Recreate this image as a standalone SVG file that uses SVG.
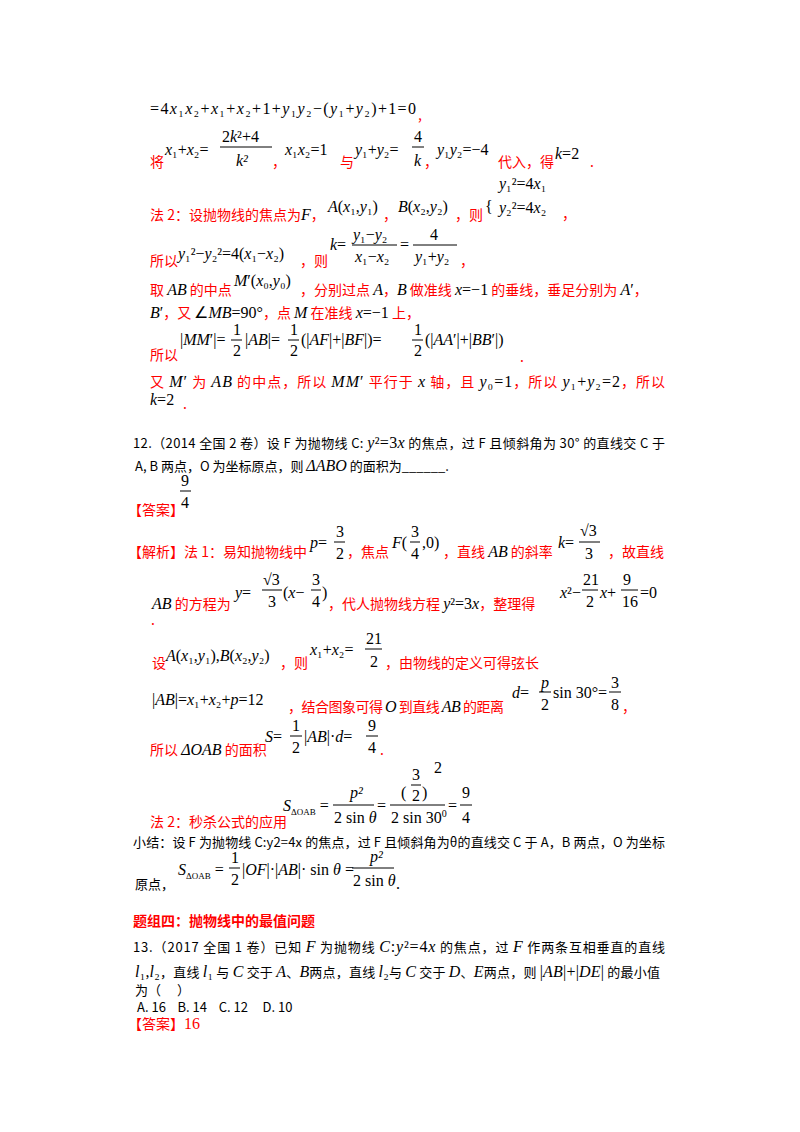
<svg xmlns="http://www.w3.org/2000/svg" width="800" height="1132" viewBox="0 0 800 1132">
<style>
text{font-family:"Liberation Serif","Noto Sans CJK SC",serif;font-size:15px;fill:#000}
.r{fill:#ff0000;font-family:"Noto Sans CJK SC",sans-serif;font-size:14px}
.c{font-family:"Noto Sans CJK SC",sans-serif;font-size:13px}
.m{font-family:"Liberation Serif",serif;font-size:16px}
.i{font-style:italic}
.rb{fill:#ff0000;font-family:"Noto Sans CJK SC",sans-serif;font-size:14px;font-weight:bold}
line{stroke:#000;stroke-width:1}
</style>
<rect width="800" height="1132" fill="#fff"/>
<text class="m" x="150" y="114" textLength="266">=4<tspan class="i">x</tspan>₁<tspan class="i">x</tspan>₂+<tspan class="i">x</tspan>₁+<tspan class="i">x</tspan>₂+1+<tspan class="i">y</tspan>₁<tspan class="i">y</tspan>₂−(<tspan class="i">y</tspan>₁+<tspan class="i">y</tspan>₂)+1=0</text>
<text class="r" x="418" y="120">,</text>
<text class="r" x="150" y="167">将</text>
<text class="m" x="165" y="155"><tspan class="i">x</tspan>₁+<tspan class="i">x</tspan>₂=</text>
<text class="m" x="222" y="142">2<tspan class="i">k</tspan>²+4</text>
<line x1="220" y1="147" x2="272" y2="147"/>
<text class="m i" x="236" y="166">k²</text>
<text class="r" x="272" y="167">，</text>
<text class="m" x="285" y="155"><tspan class="i">x</tspan>₁<tspan class="i">x</tspan>₂=1</text>
<text class="r" x="340" y="167">与</text>
<text class="m" x="355" y="155"><tspan class="i">y</tspan>₁+<tspan class="i">y</tspan>₂=</text>
<text class="m" x="414" y="142">4</text>
<line x1="412" y1="147" x2="424" y2="147"/>
<text class="m i" x="414" y="166">k</text>
<text class="r" x="424" y="167">，</text>
<text class="m" x="437" y="155"><tspan class="i">y</tspan>₁<tspan class="i">y</tspan>₂=−4</text>
<text class="r" x="498" y="167">代入，得</text>
<text class="m" x="555" y="159"><tspan class="i">k</tspan>=2</text>
<text class="r" x="590" y="167">.</text>
<text class="m" x="485" y="212" font-size="40">{</text>
<text class="m" x="499" y="189"><tspan class="i">y</tspan>₁²=4<tspan class="i">x</tspan>₁</text>
<text class="m" x="499" y="213"><tspan class="i">y</tspan>₂²=4<tspan class="i">x</tspan>₂</text>
<text class="r" x="562" y="219">，</text>
<text class="r" x="150" y="220">法 2：设抛物线的焦点为<tspan class="m i" fill="#000">F</tspan>，</text>
<text class="m" x="328" y="212"><tspan class="i">A</tspan>(<tspan class="i">x</tspan>₁,<tspan class="i">y</tspan>₁)</text>
<text class="r" x="383" y="220">，</text>
<text class="m" x="398" y="212"><tspan class="i">B</tspan>(<tspan class="i">x</tspan>₂,<tspan class="i">y</tspan>₂)</text>
<text class="r" x="455" y="220">，则</text>
<text class="r" x="150" y="266">所以</text>
<text class="m" x="178" y="259"><tspan class="i">y</tspan>₁²−<tspan class="i">y</tspan>₂²=4(<tspan class="i">x</tspan>₁−<tspan class="i">x</tspan>₂)</text>
<text class="r" x="300" y="266">，则</text>
<text class="m" x="330" y="250"><tspan class="i">k</tspan>=</text>
<text class="m" x="353" y="240"><tspan class="i">y</tspan>₁−<tspan class="i">y</tspan>₂</text>
<line x1="352" y1="245" x2="397" y2="245"/>
<text class="m" x="355" y="262"><tspan class="i">x</tspan>₁−<tspan class="i">x</tspan>₂</text>
<text class="m" x="400" y="250">=</text>
<text class="m" x="430" y="240">4</text>
<line x1="413" y1="245" x2="457" y2="245"/>
<text class="m" x="415" y="262"><tspan class="i">y</tspan>₁+<tspan class="i">y</tspan>₂</text>
<text class="r" x="460" y="266">，</text>
<text class="r" x="150" y="295">取 <tspan class="m i" fill="#000">AB</tspan> 的中点</text>
<text class="m" x="234" y="286"><tspan class="i">M</tspan>′(<tspan class="i">x</tspan>₀,<tspan class="i">y</tspan>₀)</text>
<text class="r" x="300" y="295">，分别过点 <tspan class="m i" fill="#000">A</tspan>，<tspan class="m i" fill="#000">B</tspan> 做准线 <tspan class="m i" fill="#000">x</tspan><tspan class="m" fill="#000">=−1</tspan> 的垂线，垂足分别为 <tspan class="m i" fill="#000">A</tspan><tspan class="m" fill="#000">′</tspan>，</text>
<text class="r" x="150" y="318"><tspan class="m i" fill="#000">B</tspan><tspan class="m" fill="#000">′</tspan>，又 <tspan class="m" fill="#000">∠</tspan><tspan class="m i" fill="#000">MB</tspan><tspan class="m" fill="#000">=90°</tspan>，点 <tspan class="m i" fill="#000">M</tspan> 在准线 <tspan class="m i" fill="#000">x</tspan><tspan class="m" fill="#000">=−1</tspan> 上，</text>
<text class="r" x="150" y="360">所以</text>
<text class="m" x="180" y="345">|<tspan class="i">MM</tspan>′|=</text>
<text class="m" x="233" y="335">1</text><line x1="231" y1="340" x2="242" y2="340"/><text class="m" x="233" y="356">2</text>
<text class="m" x="245" y="345">|<tspan class="i">AB</tspan>|=</text>
<text class="m" x="290" y="335">1</text><line x1="288" y1="340" x2="299" y2="340"/><text class="m" x="290" y="356">2</text>
<text class="m" x="301" y="345">(|<tspan class="i">AF</tspan>|+|<tspan class="i">BF</tspan>|)=</text>
<text class="m" x="414" y="335">1</text><line x1="412" y1="340" x2="423" y2="340"/><text class="m" x="414" y="356">2</text>
<text class="m" x="425" y="345">(|<tspan class="i">AA</tspan>′|+|<tspan class="i">BB</tspan>′|)</text>
<text class="r" x="520" y="362">.</text>
<text class="r" x="150" y="387" textLength="515">又 <tspan class="m i" fill="#000">M</tspan><tspan class="m" fill="#000">′</tspan> 为 <tspan class="m i" fill="#000">AB</tspan> 的中点，所以 <tspan class="m i" fill="#000">MM</tspan><tspan class="m" fill="#000">′</tspan> 平行于 <tspan class="m i" fill="#000">x</tspan> 轴，且 <tspan class="m i" fill="#000">y</tspan><tspan class="m" fill="#000">₀=1</tspan>，所以 <tspan class="m i" fill="#000">y</tspan><tspan class="m" fill="#000">₁+</tspan><tspan class="m i" fill="#000">y</tspan><tspan class="m" fill="#000">₂=2</tspan>，所以</text>
<text class="m" x="150" y="405"><tspan class="i">k</tspan>=2</text>
<text class="r" x="183" y="409">.</text>
<text class="c" x="133" y="448" textLength="532">12.（2014 全国 2 卷）设 F 为抛物线 C: <tspan class="m i">y</tspan><tspan class="m">²=3</tspan><tspan class="m i">x</tspan> 的焦点，过 F 且倾斜角为 30° 的直线交 C 于</text>
<text class="c" x="135" y="471">A, B 两点，O 为坐标原点，则 <tspan class="m i">ΔABO</tspan> 的面积为______.</text>
<text class="r" x="128" y="515" font-size="12">【答案】</text>
<text class="m" x="181" y="486">9</text><line x1="180" y1="491" x2="191" y2="491"/><text class="m" x="181" y="508">4</text>
<text class="r" x="128" y="557" font-size="13">【解析】法 1：易知抛物线中</text>
<text class="m" x="310" y="548"><tspan class="i">p</tspan>=</text>
<text class="m" x="336" y="537">3</text><line x1="334" y1="542" x2="345" y2="542"/><text class="m" x="336" y="559">2</text>
<text class="r" x="347" y="557">，焦点</text>
<text class="m" x="392" y="548"><tspan class="i">F</tspan>(</text>
<text class="m" x="411" y="537">3</text><line x1="410" y1="542" x2="420" y2="542"/><text class="m" x="411" y="559">4</text>
<text class="m" x="422" y="548">,0)</text>
<text class="r" x="443" y="557">，直线 <tspan class="m i" fill="#000">AB</tspan> 的斜率</text>
<text class="m" x="558" y="548"><tspan class="i">k</tspan>=</text>
<text class="m" x="580" y="536">√3</text><line x1="579" y1="542" x2="600" y2="542"/><text class="m" x="585" y="559">3</text>
<text class="r" x="608" y="557">，故直线</text>
<text class="r" x="152" y="609"><tspan class="m i" fill="#000">AB</tspan> 的方程为</text>
<text class="m" x="235" y="598"><tspan class="i">y</tspan>=</text>
<text class="m" x="263" y="585">√3</text><line x1="262" y1="590" x2="282" y2="590"/><text class="m" x="268" y="607">3</text>
<text class="m" x="283" y="598">(<tspan class="i">x</tspan>−</text>
<text class="m" x="312" y="585">3</text><line x1="311" y1="590" x2="321" y2="590"/><text class="m" x="312" y="607">4</text>
<text class="m" x="322" y="598">)</text>
<text class="r" x="328" y="609">，代人抛物线方程 <tspan class="m i" fill="#000">y</tspan><tspan class="m" fill="#000">²=3</tspan><tspan class="m i" fill="#000">x</tspan>，整理得</text>
<text class="m" x="560" y="598"><tspan class="i">x</tspan>²−</text>
<text class="m" x="583" y="585">21</text><line x1="582" y1="590" x2="598" y2="590"/><text class="m" x="586" y="607">2</text>
<text class="m" x="600" y="598"><tspan class="i">x</tspan>+</text>
<text class="m" x="623" y="585">9</text><line x1="621" y1="590" x2="638" y2="590"/><text class="m" x="622" y="607">16</text>
<text class="m" x="640" y="598">=0</text>
<text class="r" x="151" y="625">.</text>
<text class="r" x="152" y="668">设</text>
<text class="m" x="166" y="661"><tspan class="i">A</tspan>(<tspan class="i">x</tspan>₁,<tspan class="i">y</tspan>₁),<tspan class="i">B</tspan>(<tspan class="i">x</tspan>₂,<tspan class="i">y</tspan>₂)</text>
<text class="r" x="280" y="668">，则</text>
<text class="m" x="310" y="655"><tspan class="i">x</tspan>₁+<tspan class="i">x</tspan>₂=</text>
<text class="m" x="366" y="644">21</text><line x1="365" y1="649" x2="382" y2="649"/><text class="m" x="370" y="667">2</text>
<text class="r" x="385" y="668">，由物线的定义可得弦长</text>
<text class="m" x="152" y="705">|<tspan class="i">AB</tspan>|=<tspan class="i">x</tspan>₁+<tspan class="i">x</tspan>₂+<tspan class="i">p</tspan>=12</text>
<text class="r" x="288" y="712" textLength="216">，结合图象可得 <tspan class="m i" fill="#000">O</tspan> 到直线 <tspan class="m i" fill="#000">AB</tspan> 的距离</text>
<text class="m" x="512" y="698"><tspan class="i">d</tspan>=</text>
<text class="m i" x="541" y="688">p</text><line x1="539" y1="692" x2="551" y2="692"/><text class="m" x="541" y="710">2</text>
<text class="m" x="553" y="698">sin 30°=</text>
<text class="m" x="611" y="688">3</text><line x1="609" y1="692" x2="621" y2="692"/><text class="m" x="611" y="710">8</text>
<text class="r" x="622" y="712">，</text>
<text class="r" x="150" y="755">所以 <tspan class="m i" fill="#000">ΔOAB</tspan> 的面积</text>
<text class="m" x="265" y="742"><tspan class="i">S</tspan>=</text>
<text class="m" x="292" y="731">1</text><line x1="290" y1="736" x2="302" y2="736"/><text class="m" x="292" y="753">2</text>
<text class="m" x="304" y="742">|<tspan class="i">AB</tspan>|·<tspan class="i">d</tspan>=</text>
<text class="m" x="368" y="731">9</text><line x1="366" y1="736" x2="378" y2="736"/><text class="m" x="368" y="753">4</text>
<text class="r" x="380" y="755">.</text>
<text class="r" x="150" y="827">法 2：秒杀公式的应用</text>
<text class="m" x="283" y="811"><tspan class="i">S</tspan><tspan font-size="9" dy="4">ΔOAB</tspan><tspan dy="-4"> =</tspan></text>
<text class="m i" x="350" y="798">p²</text><line x1="333" y1="805" x2="374" y2="805"/><text class="m" x="334" y="823">2 sin <tspan class="i">θ</tspan></text>
<text class="m" x="377" y="811">=</text>
<text class="m" x="401" y="798" font-size="34">(</text><text class="m" x="412" y="780">3</text><line x1="411" y1="785" x2="421" y2="785"/><text class="m" x="412" y="801">2</text><text class="m" x="422" y="798" font-size="34">)</text><text class="m" x="434" y="773" font-size="10">2</text>
<line x1="390" y1="805" x2="445" y2="805"/>
<text class="m" x="391" y="823">2 sin 30<tspan font-size="10" dy="-6">0</tspan></text>
<text class="m" x="448" y="811">=</text>
<text class="m" x="462" y="798">9</text><line x1="460" y1="805" x2="472" y2="805"/><text class="m" x="462" y="823">4</text>
<text class="c" x="133" y="847" textLength="532">小结：设 F 为抛物线 C:y2=4x 的焦点，过 F 且倾斜角为θ的直线交 C 于 A，B 两点，O 为坐标</text>
<text class="c" x="135" y="889">原点，</text>
<text class="m" x="178" y="875"><tspan class="i">S</tspan><tspan font-size="9" dy="4">ΔOAB</tspan><tspan dy="-4"> =</tspan></text>
<text class="m" x="231" y="863">1</text><line x1="229" y1="868" x2="240" y2="868"/><text class="m" x="231" y="885">2</text>
<text class="m" x="242" y="875">|<tspan class="i">OF</tspan>|·|<tspan class="i">AB</tspan>|· sin <tspan class="i">θ</tspan> =</text>
<text class="m i" x="370" y="862">p²</text><line x1="352" y1="868" x2="394" y2="868"/><text class="m" x="353" y="886">2 sin <tspan class="i">θ</tspan></text>
<text class="m" x="396" y="889">.</text>
<text class="rb" x="133" y="926">题组四：抛物线中的最值问题</text>
<text class="c" x="133" y="952" textLength="532">13.（2017 全国 1 卷）已知 <tspan class="m i" font-size="18">F</tspan> 为抛物线 <tspan class="m i" font-size="18">C</tspan><tspan class="m" font-size="18">:</tspan><tspan class="m i" font-size="18">y</tspan><tspan class="m" font-size="18">²=4</tspan><tspan class="m i" font-size="18">x</tspan> 的焦点，过 <tspan class="m i" font-size="18">F</tspan> 作两条互相垂直的直线</text>
<text class="c" x="135" y="977" textLength="525"><tspan class="m i">l</tspan><tspan class="m">₁,</tspan><tspan class="m i">l</tspan><tspan class="m">₂</tspan>，直线 <tspan class="m i">l</tspan><tspan class="m">₁</tspan> 与 <tspan class="m i" font-size="18">C</tspan> 交于 <tspan class="m i">A</tspan>、<tspan class="m i">B</tspan>两点，直线 <tspan class="m i">l</tspan><tspan class="m">₂</tspan>与 <tspan class="m i" font-size="18">C</tspan> 交于 <tspan class="m i">D</tspan>、<tspan class="m i">E</tspan>两点，则 <tspan class="m">|</tspan><tspan class="m i">AB</tspan><tspan class="m">|+|</tspan><tspan class="m i">DE</tspan><tspan class="m">|</tspan> 的最小值</text>
<text class="c" x="135" y="995" font-size="12">为（　 ）</text>
<text class="c" x="137" y="1012" font-size="12" xml:space="preserve">A. 16    B. 14    C. 12     D. 10</text>
<text class="r" x="128" y="1029">【答案】<tspan class="m">16</tspan></text>
</svg>
